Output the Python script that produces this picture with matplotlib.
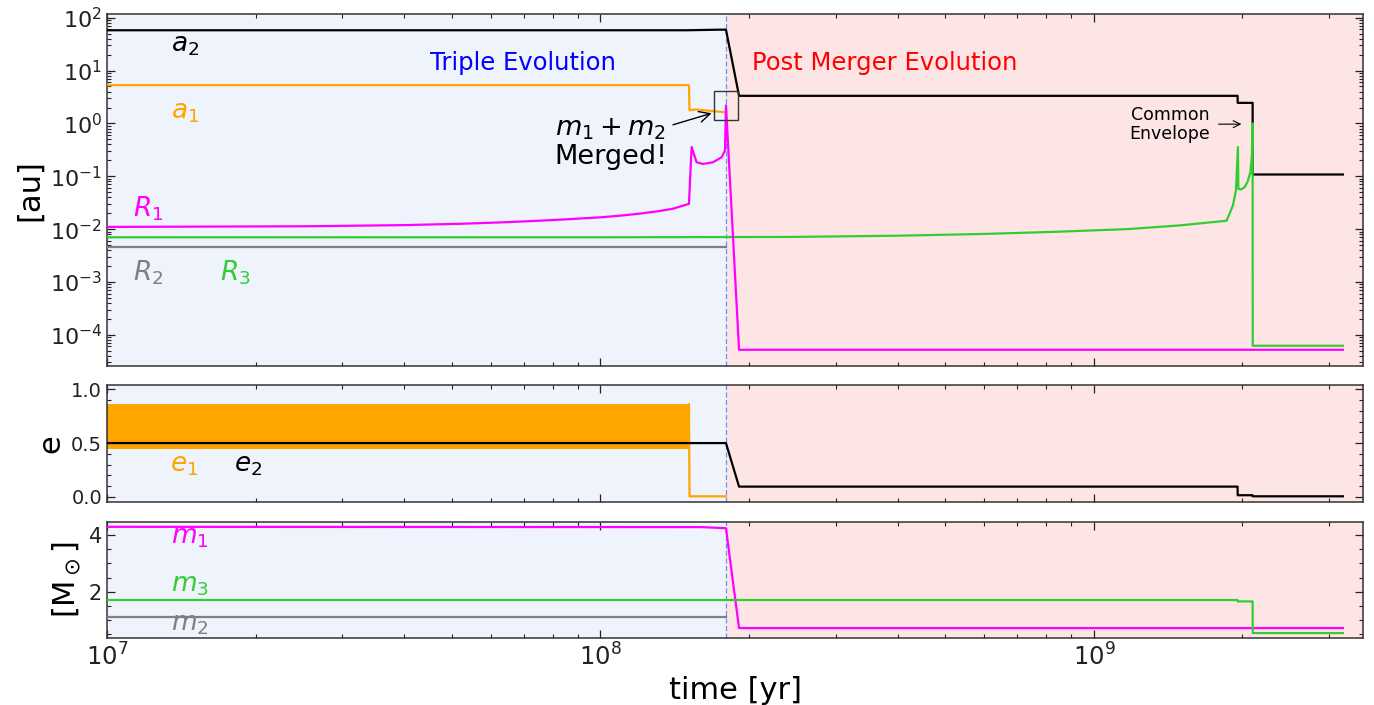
import matplotlib.pyplot as plt
import numpy as np
from matplotlib.ticker import LogLocator, MultipleLocator, AutoMinorLocator, NullFormatter
from matplotlib.patches import Rectangle

# time of merger, end of run [yr]
t_merge = 1.796e8
t_end = 3.195e9

# separations / radii [au]
t_a2 = [1e7, 1.5e8, 1.75e8, 1.796e8, 1.909e8, 1.955e9, 1.956e9, 2.097e9, 2.098e9, t_end]
a2 = [58, 58, 59.5, 59.5, 3.33, 3.33, 2.45, 2.45, 0.108, 0.108]

t_a1 = [1e7, 1.511e8, 1.515e8, 1.56e8, 1.68e8, t_merge]
a1 = [5.3, 5.3, 1.78, 1.84, 1.72, 1.62]

t_R1 = [1e7, 2.5e7, 4e7, 5.2e7, 6.3e7, 7.5e7, 8.5e7, 1.0e8, 1.1e8, 1.2e8, 1.3e8, 1.4e8,
        1.511e8, 1.53e8, 1.566e8, 1.613e8, 1.69e8, 1.76e8, 1.788e8, t_merge, 1.909e8, t_end]
R1 = [0.0110, 0.0113, 0.0119, 0.0126, 0.0134, 0.0144, 0.0153, 0.0167, 0.0180, 0.0196,
      0.0216, 0.0242, 0.030, 0.357, 0.184, 0.171, 0.184, 0.229, 0.307, 2.2, 5.2e-5, 5.2e-5]

t_R2 = [1e7, t_merge]
R2 = [0.0045, 0.0045]

t_R3 = [1e7, 1e8, 2.4e8, 4e8, 6e8, 8.4e8, 1.17e9, 1.5e9, 1.857e9, 1.913e9, 1.94e9, 1.958e9,
        1.962e9, 1.985e9, 2.02e9, 2.05e9, 2.075e9, 2.09e9, 2.097e9, 2.098e9, t_end]
R3 = [0.0070, 0.0070, 0.0071, 0.0075, 0.0081, 0.0089, 0.0100, 0.0118, 0.0144, 0.028, 0.054,
      0.357, 0.058, 0.056, 0.062, 0.08, 0.12, 0.25, 1.0, 6.2e-5, 6.2e-5]

# eccentricities
t_e1_band = [1e7, 1.515e8]
e1_lo = [0.445, 0.445]
e1_hi = [0.86, 0.86]
t_e1 = [1.511e8, 1.515e8, t_merge]
e1 = [0.86, 0.005, 0.005]

t_e2 = [1e7, t_merge, 1.909e8, 1.955e9, 1.956e9, 2.097e9, 2.098e9, t_end]
e2 = [0.5, 0.5, 0.095, 0.095, 0.015, 0.015, 0.005, 0.005]

# masses [Msun]
t_m1 = [1e7, 1.6e8, t_merge, 1.909e8, t_end]
m1 = [4.29, 4.28, 4.24, 0.72, 0.72]
t_m2 = [1e7, t_merge]
m2 = [1.12, 1.12]
t_m3 = [1e7, 1.955e9, 1.956e9, 2.097e9, 2.098e9, t_end]
m3 = [1.71, 1.71, 1.66, 1.66, 0.545, 0.545]

xmin, xmax = 1e7, 3.51e9
lw = 1.6
fs_lab = 22
fs_name = 19

fig = plt.figure(figsize=(13.74, 7.05), dpi=100)
ax1 = fig.add_axes([0.0779, 0.4813, 0.9141, 0.4989])
ax2 = fig.add_axes([0.0779, 0.2884, 0.9141, 0.1655], sharex=ax1)
ax3 = fig.add_axes([0.0779, 0.0946, 0.9141, 0.1654], sharex=ax1)

for ax in (ax1, ax2, ax3):
    ax.axvspan(xmin, t_merge, color='#eef3fc', lw=0, zorder=0)
    ax.axvspan(t_merge, xmax, color='#fde5e5', lw=0, zorder=0)
    ax.axvline(t_merge, color='cornflowerblue', ls=(0, (4, 2)), lw=0.9, zorder=1)
    ax.set_xscale('log')
    ax.tick_params(which='both', direction='in', top=True, right=True, colors='#222222')
    ax.tick_params(which='major', length=5.5, width=0.9)
    ax.tick_params(which='minor', length=3, width=0.8)
    ax.tick_params(axis='x', labelsize=17.5)
    for s in ax.spines.values():
        s.set_color('#333333')
        s.set_linewidth(1.1)
ax1.tick_params(axis='y', labelsize=16)
ax2.tick_params(axis='y', labelsize=14)
ax3.tick_params(axis='y', labelsize=15)
ax1.tick_params(axis='x', which='both', labelbottom=False)
ax2.tick_params(axis='x', which='both', labelbottom=False)

# top panel
ax1.plot(t_a2, a2, color='black', lw=lw, zorder=3)
ax1.plot(t_a1, a1, color='orange', lw=lw, zorder=3)
ax1.plot(t_R2, R2, color='grey', lw=lw, zorder=3)
ax1.plot(t_R3, R3, color='limegreen', lw=lw, zorder=3)
ax1.plot(t_R1, R1, color='magenta', lw=lw, zorder=4)
ax1.set_yscale('log')
ax1.set_ylim(2.6e-5, 118)
ax1.yaxis.set_major_locator(LogLocator(base=10, numticks=12))
ax1.yaxis.set_minor_locator(LogLocator(base=10, subs=np.arange(2, 10), numticks=12))
ax1.yaxis.set_minor_formatter(NullFormatter())
ax1.set_ylabel('[au]', fontsize=fs_lab)

ax1.text(1.44e7, 30.7, r'$a_2$', color='black', fontsize=fs_name, ha='center', va='center')
ax1.text(1.44e7, 1.63, r'$a_1$', color='orange', fontsize=fs_name, ha='center', va='center')
ax1.text(1.21e7, 0.0245, r'$R_1$', color='magenta', fontsize=fs_name, ha='center', va='center')
ax1.text(1.21e7, 0.00148, r'$R_2$', color='grey', fontsize=fs_name, ha='center', va='center')
ax1.text(1.82e7, 0.00148, r'$R_3$', color='limegreen', fontsize=fs_name, ha='center', va='center')

ax1.text(6.97e7, 13.9, 'Triple Evolution', color='blue', fontsize=17.5, ha='center', va='center')
ax1.text(3.77e8, 13.9, 'Post Merger Evolution', color='red', fontsize=17.5, ha='center', va='center')

ax1.add_patch(Rectangle((1.70e8, 1.15), 1.90e8 - 1.70e8, 4.09 - 1.15, fill=False,
                        edgecolor='#333333', lw=1.0, zorder=5))
ax1.annotate('$m_1 + m_2$\nMerged!', xy=(1.68e8, 1.56), xytext=(1.05e8, 0.42),
             fontsize=19.5, ha='center', va='center', linespacing=1.1,
             arrowprops=dict(arrowstyle='->', color='black', lw=1.0, shrinkA=2, shrinkB=0))
ax1.annotate('Common\nEnvelope', xy=(1.99e9, 0.97), xytext=(1.426e9, 0.966),
             fontsize=12.5, ha='center', va='center', linespacing=1.1,
             arrowprops=dict(arrowstyle='->', color='black', lw=0.8, shrinkA=4, shrinkB=0))

# middle panel
ax2.fill_between(t_e1_band, e1_lo, e1_hi, color='orange', lw=0, zorder=2)
ax2.plot(t_e1, e1, color='orange', lw=lw, zorder=2)
ax2.plot(t_e2, e2, color='black', lw=lw, zorder=3)
ax2.set_ylim(-0.045, 1.04)
ax2.yaxis.set_major_locator(MultipleLocator(0.5))
ax2.yaxis.set_minor_locator(AutoMinorLocator(5))
ax2.set_ylabel('e', fontsize=fs_lab)
ax2.text(1.43e7, 0.30, r'$e_1$', color='orange', fontsize=fs_name, ha='center', va='center')
ax2.text(1.93e7, 0.30, r'$e_2$', color='black', fontsize=fs_name, ha='center', va='center')

# bottom panel
ax3.plot(t_m1, m1, color='magenta', lw=lw, zorder=3)
ax3.plot(t_m2, m2, color='grey', lw=lw, zorder=3)
ax3.plot(t_m3, m3, color='limegreen', lw=lw, zorder=3)
ax3.set_ylim(0.36, 4.47)
ax3.yaxis.set_major_locator(MultipleLocator(2))
ax3.yaxis.set_minor_locator(AutoMinorLocator(4))
ax3.set_ylabel(r'[M$_\odot$]', fontsize=fs_lab)
ax3.text(1.47e7, 3.93, r'$m_1$', color='magenta', fontsize=fs_name, ha='center', va='center')
ax3.text(1.47e7, 2.23, r'$m_3$', color='limegreen', fontsize=fs_name, ha='center', va='center')
ax3.text(1.47e7, 0.85, r'$m_2$', color='grey', fontsize=fs_name, ha='center', va='center')

ax3.set_xlim(xmin, xmax)
ax3.xaxis.set_major_locator(LogLocator(base=10, numticks=10))
ax3.xaxis.set_minor_locator(LogLocator(base=10, subs=np.arange(2, 10), numticks=10))
ax3.xaxis.set_minor_formatter(NullFormatter())
ax3.set_xlabel('time [yr]', fontsize=fs_lab)

fig.savefig('out.png', dpi=100)
